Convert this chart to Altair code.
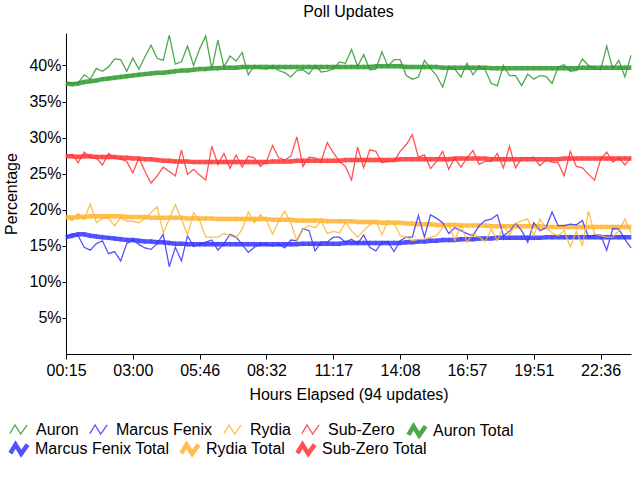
import altair as alt
import pandas as pd

FONT = "Liberation Sans, Arial, sans-serif"

tick_labels = ["00:15", "03:00", "05:46", "08:32", "11:17", "14:08", "16:57", "19:51", "22:36"]
tick_index = [0, 11, 22, 33, 44, 55, 66, 77, 88]

auron = [37.7, 37.5, 37.6, 38.7, 38.1, 39.6, 39.2, 39.8, 40.9, 40.8, 39.2, 41.0, 39.5, 41.2, 42.8, 41.0,
         40.7, 44.2, 40.2, 40.5, 42.7, 40.0, 42.3, 44.1, 39.5, 43.5, 39.8, 41.3, 40.6, 41.8, 38.7, 40.0,
         39.6, 39.5, 39.9, 39.3, 39.0, 38.4, 39.3, 39.4, 38.8, 40.0, 39.1, 39.2, 39.5, 40.5, 40.3, 42.2,
         39.9, 41.5, 39.4, 39.5, 41.9, 39.9, 40.8, 40.8, 38.6, 38.1, 38.4, 40.7, 39.6, 38.6, 37.0, 39.8,
         39.5, 38.4, 40.3, 38.7, 39.9, 39.4, 37.5, 37.2, 40.0, 38.6, 38.6, 37.2, 38.8, 38.1, 38.6, 38.5,
         37.5, 39.8, 40.1, 39.2, 39.3, 40.9, 40.0, 39.6, 39.4, 42.7, 39.5, 40.7, 38.4, 41.4]
marcus = [16.2, 16.6, 16.4, 14.8, 14.4, 15.3, 15.7, 13.9, 14.2, 12.9, 15.3, 15.8, 15.2, 14.7, 14.5, 15.3,
          16.6, 12.1, 14.8, 12.9, 16.4, 14.9, 15.2, 15.5, 15.8, 14.4, 15.3, 16.6, 16.2, 15.2, 14.1, 14.8,
          15.2, 15.2, 15.0, 15.2, 14.7, 15.8, 15.7, 17.4, 17.1, 14.3, 15.5, 15.5, 16.2, 16.2, 15.5, 15.9,
          15.3, 16.5, 14.8, 14.3, 15.5, 15.5, 14.2, 15.7, 16.2, 16.2, 19.2, 16.2, 19.3, 18.8, 18.2, 16.7,
          17.5, 17.1, 16.7, 16.4, 17.8, 18.5, 18.7, 19.3, 16.4, 17.0, 18.1, 17.1, 15.5, 18.2, 17.1, 17.5,
          19.7, 17.8, 17.8, 18.0, 17.9, 18.5, 16.2, 16.5, 16.5, 14.4, 17.4, 17.3, 15.9, 14.7]
rydia = [19.0, 18.5, 19.5, 18.7, 20.8, 18.2, 18.8, 18.8, 17.8, 18.9, 18.4, 18.4, 18.2, 18.8, 19.6, 20.4,
         16.8, 18.7, 20.7, 18.7, 16.5, 19.6, 18.5, 16.2, 16.2, 16.2, 16.7, 16.4, 16.1, 17.3, 19.7, 18.2,
         19.3, 18.5, 16.6, 18.4, 19.8, 18.2, 15.7, 17.3, 17.8, 17.5, 18.4, 16.7, 17.0, 16.8, 18.2, 17.1,
         16.2, 17.1, 17.9, 18.4, 16.5, 18.5, 18.2, 16.4, 16.2, 15.7, 15.9, 15.9, 16.2, 16.4, 17.5, 18.1,
         15.7, 18.0, 15.5, 16.7, 16.2, 15.6, 17.3, 15.7, 17.8, 16.5, 18.0, 18.5, 18.7, 16.4, 18.7, 17.5,
         16.8, 16.4, 17.1, 14.8, 17.0, 15.1, 19.8, 16.6, 16.4, 16.2, 16.2, 17.1, 18.7, 16.8]
subzero = [27.4, 27.7, 26.5, 28.0, 27.2, 27.2, 26.2, 27.8, 27.2, 27.0, 26.7, 25.1, 27.2, 25.3, 23.7, 24.7,
           25.9, 25.3, 24.7, 28.3, 24.9, 25.6, 24.8, 24.1, 28.8, 26.3, 27.8, 25.7, 27.6, 25.9, 27.4, 27.2,
           26.0, 26.7, 28.9, 27.2, 26.9, 27.4, 30.1, 26.0, 27.3, 27.2, 26.7, 29.3, 27.9, 26.7, 26.0, 24.1,
           28.7, 25.8, 28.3, 28.1, 26.5, 26.7, 26.7, 28.1, 29.0, 30.4, 27.3, 27.6, 25.7, 26.7, 28.1, 25.6,
           27.2, 25.9, 27.2, 28.2, 26.3, 26.7, 26.7, 27.8, 25.8, 28.8, 25.8, 27.2, 27.2, 27.3, 26.1, 26.9,
           26.6, 26.5, 24.7, 28.1, 26.0, 25.8, 24.9, 24.1, 27.0, 28.0, 26.6, 27.2, 26.2, 27.3]

auron_total = [37.5, 37.4, 37.5, 37.7, 37.8, 37.9, 38.1, 38.2, 38.3, 38.4,
               38.5, 38.6, 38.7, 38.8, 38.9, 39.0, 39.0, 39.1, 39.2, 39.3,
               39.3, 39.4, 39.5, 39.5, 39.6, 39.6, 39.7, 39.7, 39.7, 39.8,
               39.8, 39.8, 39.8, 39.8, 39.8, 39.8, 39.8, 39.8, 39.8, 39.8,
               39.8, 39.8, 39.8, 39.8, 39.8, 39.8, 39.8, 39.8, 39.8, 39.8,
               39.8, 39.9, 39.9, 39.9, 39.9, 39.9, 39.8, 39.8, 39.8, 39.8,
               39.8, 39.8, 39.7, 39.7, 39.7, 39.7, 39.7, 39.7, 39.7, 39.7,
               39.6, 39.6, 39.6, 39.6, 39.6, 39.6, 39.6, 39.6, 39.6, 39.6,
               39.6, 39.6, 39.6, 39.6, 39.6, 39.7, 39.7, 39.7, 39.7, 39.7,
               39.7, 39.7, 39.7, 39.7]
marcus_total = [16.2, 16.4, 16.6, 16.6, 16.4, 16.3, 16.2, 16.1, 16.0, 15.9,
                15.8, 15.8, 15.7, 15.6, 15.6, 15.5, 15.5, 15.4, 15.3, 15.3,
                15.2, 15.2, 15.2, 15.2, 15.2, 15.2, 15.2, 15.2, 15.2, 15.2,
                15.2, 15.2, 15.2, 15.2, 15.2, 15.2, 15.2, 15.2, 15.2, 15.3,
                15.3, 15.3, 15.3, 15.3, 15.3, 15.3, 15.4, 15.4, 15.4, 15.4,
                15.4, 15.4, 15.4, 15.4, 15.4, 15.4, 15.5, 15.5, 15.6, 15.6,
                15.7, 15.7, 15.8, 15.8, 15.8, 15.9, 15.9, 15.9, 16.0, 16.0,
                16.0, 16.1, 16.1, 16.1, 16.1, 16.1, 16.1, 16.1, 16.1, 16.2,
                16.2, 16.2, 16.2, 16.2, 16.2, 16.2, 16.2, 16.2, 16.2, 16.2,
                16.2, 16.2, 16.2, 16.2]
rydia_total = [19.0, 18.9, 19.0, 19.0, 19.1, 19.1, 19.1, 19.1, 19.1, 19.1,
               19.0, 19.0, 19.0, 19.0, 18.9, 18.9, 18.9, 18.9, 18.9, 18.9,
               18.8, 18.8, 18.8, 18.8, 18.8, 18.7, 18.7, 18.7, 18.7, 18.7,
               18.7, 18.7, 18.7, 18.7, 18.6, 18.6, 18.6, 18.6, 18.5, 18.5,
               18.5, 18.5, 18.5, 18.4, 18.4, 18.4, 18.4, 18.4, 18.3, 18.3,
               18.3, 18.3, 18.2, 18.2, 18.2, 18.2, 18.1, 18.1, 18.0, 18.0,
               18.0, 17.9, 17.9, 17.9, 17.9, 17.8, 17.8, 17.8, 17.8, 17.8,
               17.7, 17.7, 17.7, 17.7, 17.7, 17.7, 17.7, 17.7, 17.7, 17.6,
               17.6, 17.6, 17.6, 17.6, 17.6, 17.6, 17.6, 17.6, 17.6, 17.6,
               17.6, 17.6, 17.6, 17.6]
subzero_total = [27.4, 27.4, 27.3, 27.4, 27.4, 27.3, 27.3, 27.3, 27.3, 27.2,
                 27.2, 27.1, 27.1, 27.0, 27.0, 26.9, 26.8, 26.8, 26.7, 26.7,
                 26.7, 26.6, 26.6, 26.6, 26.6, 26.6, 26.6, 26.6, 26.6, 26.6,
                 26.6, 26.6, 26.6, 26.6, 26.7, 26.7, 26.7, 26.7, 26.8, 26.8,
                 26.8, 26.8, 26.8, 26.8, 26.8, 26.8, 26.9, 26.9, 26.9, 26.9,
                 26.9, 26.9, 26.9, 26.9, 26.9, 27.0, 27.0, 27.0, 27.0, 27.0,
                 27.0, 27.0, 27.0, 27.0, 27.1, 27.1, 27.1, 27.1, 27.1, 27.1,
                 27.0, 27.0, 27.0, 27.0, 27.0, 27.0, 27.0, 27.0, 27.0, 27.0,
                 27.0, 27.0, 27.1, 27.1, 27.1, 27.1, 27.1, 27.1, 27.1, 27.1,
                 27.1, 27.1, 27.1, 27.1]

series_names = ["Auron", "Marcus Fenix", "Rydia", "Sub-Zero",
                "Auron Total", "Marcus Fenix Total", "Rydia Total", "Sub-Zero Total"]
series_values = [auron, marcus, rydia, subzero, auron_total, marcus_total, rydia_total, subzero_total]
series_colors = ["#2f9a2f", "#3535ff", "#ffb42e", "#ff3535",
                 "#2f9a2f", "#3535ff", "#ffb42e", "#ff3535"]
series_widths = [1.3, 1.3, 1.3, 1.3, 4.5, 4.5, 4.5, 4.5]

rows = []
for name, vals in zip(series_names, series_values):
    for i, v in enumerate(vals):
        rows.append({"idx": i, "value": v, "series": name, "total": name.endswith("Total")})
df = pd.DataFrame(rows)

label_array = "[" + ",".join("'%s'" % t for t in tick_labels) + "]"

x_enc = alt.X("idx:Q",
              scale=alt.Scale(domain=[0, len(auron) - 1], nice=False, zero=False),
              axis=alt.Axis(values=tick_index, labelExpr=label_array + "[round(datum.value/11)]",
                            title="Hours Elapsed (94 updates)", grid=False, labelOverlap=False,
                            labelFlush=False, titlePadding=8))
y_enc = alt.Y("value:Q",
              scale=alt.Scale(domain=[0, 44.5], nice=False),
              axis=alt.Axis(values=[5, 10, 15, 20, 25, 30, 35, 40], labelExpr="datum.value + '%'",
                            title="Percentage", grid=False, labelOverlap=False, labelFlush=False,
                            tickSize=4, labelPadding=1, titlePadding=9))

SYMBOL = "M-1,0.45L-0.4,-0.55L0.25,0.5L1,-0.55"


def make_legend(x, y, col_pad=8, label_off=8):
    return alt.Legend(title=None, orient="none", direction="horizontal", legendX=x, legendY=y,
                      symbolType=SYMBOL, symbolFillColor="transparent", symbolSize=300,
                      labelFont=FONT, labelFontSize=16, labelColor="black",
                      columnPadding=col_pad, labelOffset=label_off, symbolOffset=0, padding=0)


def line_layer(sel, legend):
    names = [series_names[k] for k in sel]
    colors = [series_colors[k] for k in sel]
    widths = [series_widths[k] for k in sel]
    return alt.Chart(df).transform_filter(
        alt.FieldOneOfPredicate(field="series", oneOf=names)
    ).mark_line(opacity=0.85).encode(
        x=x_enc, y=y_enc,
        color=alt.Color("series:N", scale=alt.Scale(domain=names, range=colors), legend=legend),
        strokeWidth=alt.StrokeWidth("series:N",
                                    scale=alt.Scale(type="ordinal", domain=names, range=widths),
                                    legend=legend),
    )


# legend rows as in the reference: four series + "Auron Total" on the first row, other totals below
row2_totals = line_layer([5, 6, 7], make_legend(-58, 405, col_pad=2, label_off=5))
auron_tot = line_layer([4], make_legend(340, 387, label_off=5))
thin_lines = line_layer([0, 1, 2, 3], make_legend(-57, 387))

total_ticks = alt.Chart(df).transform_filter("datum.total").mark_tick(
    orient="vertical", size=5, thickness=1.2, opacity=0.45).encode(
    x=x_enc, y=y_enc,
    color=alt.Color("series:N", scale=alt.Scale(domain=series_names, range=series_colors), legend=None))

chart = alt.layer(row2_totals, auron_tot, total_ticks, thin_lines).resolve_scale(
    color="independent", strokeWidth="independent"
).resolve_legend(color="independent", strokeWidth="independent").properties(
    width=565, height=321,
    background="white",
    title=alt.TitleParams("Poll Updates", font=FONT, fontSize=16, fontWeight="normal",
                          color="black", anchor="middle", offset=13),
    autosize=alt.AutoSizeParams(type="none"),
    padding={"left": 66, "top": 33, "right": 9, "bottom": 126},
).configure_view(stroke=None).configure_axis(
    domainColor="black", tickColor="black", labelColor="black", titleColor="black",
    labelFont=FONT, titleFont=FONT, labelFontSize=16, titleFontSize=16,
    titleFontWeight="normal", tickSize=5, labelPadding=3, domainWidth=1, tickWidth=1
)

chart.save("out.html", embed_options={"renderer": "svg", "actions": False})
